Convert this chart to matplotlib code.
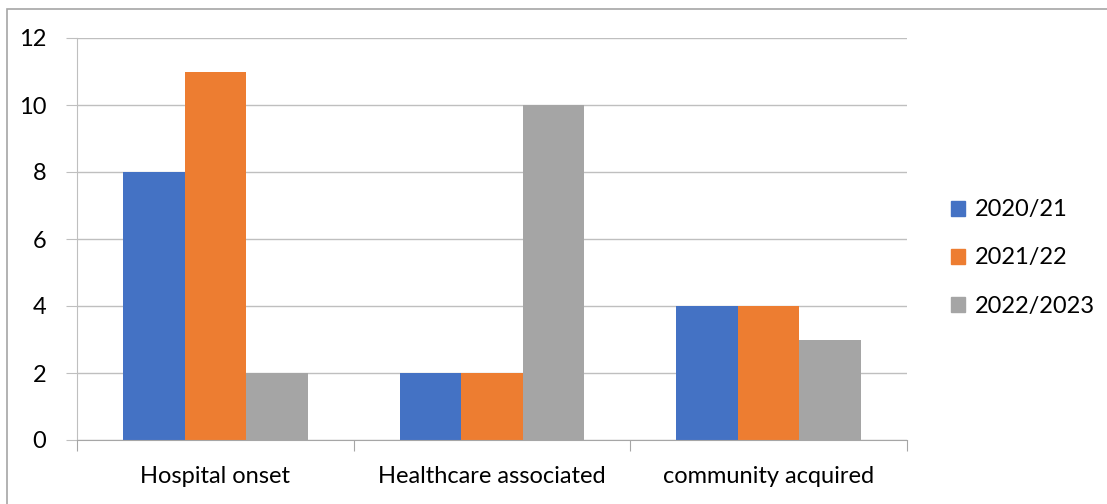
import numpy as np
import matplotlib.pyplot as plt
from matplotlib.patches import Rectangle, Patch

plt.rcParams['font.family'] = ['Lato', 'DejaVu Sans']

categories = ['Hospital onset', 'Healthcare associated', 'community acquired']
seasons = ['2020/21', '2021/22', '2022/2023']
values_2020 = [8, 2, 4]
values_2021 = [11, 2, 4]
values_2022 = [2, 10, 3]
colors = ['#4472C4', '#ED7D31', '#A5A5A5']

W, H = 1107, 504
fig = plt.figure(figsize=(W / 100, H / 100), dpi=100)

# chart frame
fig.patches.append(Rectangle((7 / W, -0.1), 1.2, (H - 9) / H + 0.1,
                             transform=fig.transFigure, fill=False,
                             edgecolor='#A6A6A6', linewidth=1.2))

ax = fig.add_axes([77 / W, (H - 440) / H, 830 / W, 402 / H])

x = np.arange(len(categories))
w = 1 / 4.5
for i, (vals, c) in enumerate(zip([values_2020, values_2021, values_2022], colors)):
    ax.bar(x + (i - 1) * w, vals, width=w, color=c, zorder=3)

ax.set_xlim(-0.5, 2.5)
ax.set_ylim(0, 12)
ax.set_yticks(range(0, 13, 2))
ax.yaxis.grid(True, color='#BFBFBF', linewidth=1, zorder=0)
ax.set_axisbelow(True)

for s in ['top', 'right']:
    ax.spines[s].set_visible(False)
ax.spines['left'].set_color('#BFBFBF')
ax.spines['bottom'].set_color('#A6A6A6')
ax.spines['bottom'].set_zorder(4)

fs = 17
ax.tick_params(axis='y', length=8, color='#BFBFBF', labelsize=fs, pad=14)
ax.set_xticks([-0.5, 0.5, 1.5, 2.5])
ax.set_xticklabels([])
ax.tick_params(axis='x', length=8, color='#A6A6A6')
ax.set_xticks(x, minor=True)
ax.set_xticklabels(categories, minor=True)
ax.tick_params(axis='x', which='minor', length=0, labelsize=fs, pad=19)

handles = [Patch(color=c) for c in colors]
fig.legend(handles, seasons, loc='center left', bbox_to_anchor=(930 / W, 1 - 258 / H),
           frameon=False, fontsize=fs, handlelength=0.6, handleheight=0.6,
           handletextpad=0.4, labelspacing=1.15)

fig.savefig('out.png', dpi=100)
